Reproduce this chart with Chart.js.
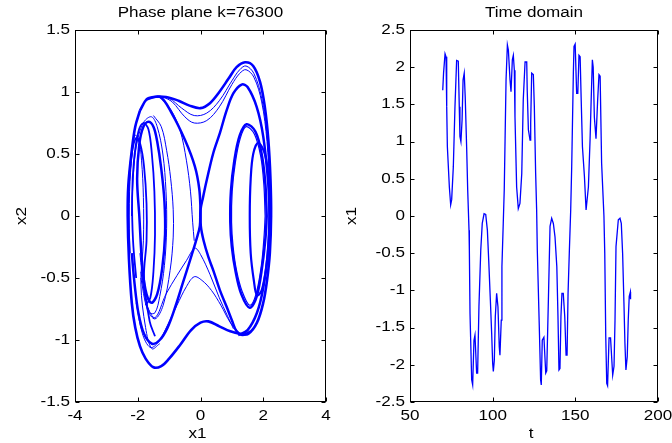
<!DOCTYPE html>
<html>
<head>
<meta charset="utf-8">
<title>Phase plane / Time domain</title>
<script src="https://cdn.jsdelivr.net/npm/chart.js@4.4.1/dist/chart.umd.min.js"></script>
<style>
    html, body { margin: 0; padding: 0; background: #fff; }
    #wrap { position: relative; width: 672px; height: 443px; overflow: hidden; }
    canvas { position: absolute; top: 0; }
    #phaseChart { left: 0; }
    #timeChart { left: 336px; }
</style>
</head>
<body>
<div id="wrap">
    <canvas id="phaseChart" width="336" height="443" style="width:336px;height:443px"></canvas>
    <canvas id="timeChart" width="336" height="443" style="width:336px;height:443px"></canvas>
</div>
<script>
// ---- Phase plane data: strands of the trajectory, [x1, x2] ----
const outerLoop = [[-1.93,0.85],[-1.72,0.94],[-1.50,0.96],[-1.10,0.96],[-0.70,0.93],[-0.35,0.89],[0.00,0.87],[0.30,0.91],[0.60,1.00],[0.90,1.11],[1.15,1.20],[1.42,1.24],[1.68,1.21],[1.90,1.08],[2.05,0.88],[2.16,0.62],[2.23,0.30],[2.25,0.00],[2.21,-0.30],[2.12,-0.52],[2.00,-0.70],[1.80,-0.86],[1.52,-0.95],[1.25,-0.95],[0.95,-0.93],[0.60,-0.89],[0.25,-0.85],[0.00,-0.86],[-0.30,-0.92],[-0.65,-1.04],[-1.00,-1.15],[-1.25,-1.21],[-1.50,-1.22],[-1.75,-1.15],[-1.93,-1.05],[-2.08,-0.90],[-2.19,-0.70],[-2.28,-0.35],[-2.32,0.00],[-2.30,0.25],[-2.19,0.53],[-2.08,0.72],[-1.93,0.85]];
const crossDown = [[-1.72,0.94],[-1.29,0.96],[-0.92,0.83],[-0.49,0.61],[-0.18,0.40],[-0.04,0.22],[0.00,0.05],[0.01,-0.08],[0.10,-0.20],[0.25,-0.33],[0.41,-0.44],[0.62,-0.60],[0.83,-0.73],[1.00,-0.84],[1.15,-0.93],[1.35,-0.96],[1.60,-0.93]];
const crossUp = [[-2.19,-0.30],[-2.10,-0.55],[-1.98,-0.78],[-1.80,-0.95],[-1.55,-1.03],[-1.30,-1.00],[-1.05,-0.90],[-0.80,-0.73],[-0.55,-0.53],[-0.30,-0.33],[-0.12,-0.18],[-0.02,-0.08],[0.00,0.05],[0.08,0.15],[0.20,0.29],[0.41,0.51],[0.62,0.67],[0.83,0.85],[1.05,0.99],[1.31,1.06],[1.50,1.04],[1.79,0.88],[2.00,0.64],[2.16,0.26],[2.20,0.00],[2.15,-0.30],[2.00,-0.58],[1.80,-0.78],[1.50,-0.92],[1.20,-0.96]];
const leftLoopA = [[-1.95,0.00],[-2.02,0.30],[-1.95,0.58],[-1.82,0.72],[-1.66,0.76],[-1.50,0.72],[-1.38,0.60],[-1.25,0.38],[-1.15,0.12],[-1.13,-0.15],[-1.22,-0.42],[-1.38,-0.63],[-1.56,-0.70],[-1.72,-0.63],[-1.85,-0.42],[-1.95,0.00]];
const leftLoopB = [[-2.25,-0.30],[-2.30,0.00],[-2.27,0.30],[-2.18,0.52],[-2.05,0.63],[-1.92,0.58],[-1.80,0.40],[-1.72,0.10],[-1.72,-0.20],[-1.80,-0.50],[-1.62,-0.85],[-1.45,-0.97]];
const leftLoopC = [[-2.05,-0.50],[-2.15,-0.20],[-2.18,0.15],[-2.12,0.45],[-1.98,0.68],[-1.82,0.75],[-1.66,0.70],[-1.55,0.50],[-1.47,0.20],[-1.45,-0.15],[-1.50,-0.45],[-1.60,-0.66],[-1.75,-0.72]];
const rightLoopA = [[2.11,0.00],[2.07,0.25],[1.95,0.50],[1.75,0.68],[1.47,0.74],[1.25,0.65],[1.08,0.45],[0.97,0.20],[0.95,-0.05],[1.00,-0.25],[1.12,-0.45],[1.30,-0.63],[1.57,-0.74],[1.79,-0.65],[1.97,-0.40],[2.08,-0.15],[2.11,0.00]];
const rightLoopA2 = [[2.06,0.00],[2.02,0.25],[1.92,0.48],[1.72,0.66],[1.45,0.72],[1.26,0.62],[1.11,0.43],[1.01,0.20],[0.99,-0.05],[1.04,-0.25],[1.15,-0.44],[1.33,-0.61],[1.57,-0.72],[1.77,-0.63],[1.94,-0.40],[2.03,-0.15],[2.06,0.00]];
const rightLoopB = [[2.20,0.00],[2.17,0.30],[2.05,0.50],[1.84,0.59],[1.68,0.50],[1.60,0.30],[1.57,0.00],[1.60,-0.30],[1.70,-0.52],[1.80,-0.64],[1.95,-0.60],[2.10,-0.40],[2.18,-0.15],[2.20,0.00]];
const thinTop1 = [[-1.30,0.96],[-1.00,0.95],[-0.60,0.87],[-0.20,0.81],[0.20,0.83],[0.60,0.93],[1.00,1.09],[1.25,1.18],[1.45,1.21],[1.70,1.15],[1.95,0.95],[2.12,0.65],[2.20,0.30]];
const thinTop2 = [[-1.20,0.96],[-0.90,0.92],[-0.50,0.80],[-0.20,0.75],[0.20,0.77],[0.60,0.88],[1.00,1.06],[1.25,1.15],[1.45,1.18],[1.70,1.12],[1.95,0.92],[2.12,0.60],[2.20,0.25]];
const thinLeft1 = [[-2.20,0.00],[-2.12,0.40],[-2.00,0.62],[-1.80,0.76],[-1.56,0.80],[-1.38,0.72],[-1.20,0.50],[-1.10,0.20],[-1.08,-0.10],[-1.15,-0.40],[-1.30,-0.65],[-1.45,-0.78],[-1.62,-0.78],[-1.80,-0.60],[-1.93,-0.30]];
const thinLeft2 = [[-1.50,0.81],[-1.25,0.72],[-1.08,0.53],[-0.95,0.30],[-0.87,0.05],[-0.87,-0.17],[-0.97,-0.44],[-1.19,-0.72],[-1.45,-0.83],[-1.70,-0.75],[-1.90,-0.50]];
const thinLeft3 = [[-2.27,-0.20],[-2.26,0.20],[-2.18,0.50],[-2.09,0.65],[-1.97,0.62],[-1.88,0.45],[-1.82,0.15],[-1.82,-0.20],[-1.90,-0.55],[-1.75,-0.90],[-1.55,-1.07],[-1.30,-1.03]];
const thinMid = [[-1.30,0.96],[-0.95,0.86],[-0.65,0.69],[-0.45,0.45],[-0.32,0.20],[-0.25,-0.05],[-0.20,-0.20]];
const thinBot1 = [[-1.90,-0.45],[-1.70,-0.72],[-1.45,-0.82],[-1.10,-0.63],[-0.75,-0.48],[-0.45,-0.36],[-0.18,-0.26],[0.00,-0.31],[0.30,-0.47],[0.60,-0.66],[0.85,-0.80],[1.05,-0.91]];
const thinBot2 = [[-2.05,-0.70],[-1.85,-0.95],[-1.60,-1.06],[-1.35,-1.02],[-1.05,-0.88],[-0.75,-0.72],[-0.45,-0.57],[-0.20,-0.49],[0.05,-0.52],[0.35,-0.60],[0.65,-0.72],[0.95,-0.86],[1.22,-0.94]];

const phaseXTicks = [-4, -2, 0, 2, 4];
const phaseYTicks = [-1.5, -1, -0.5, 0, 0.5, 1, 1.5];

// ---- Time domain data ----
const timeT = [69.8,70.3,71.2,71.8,72.2,72.6,73.8,74.6,75.2,76.2,
    77.2,78.2,79.2,79.8,80.2,80.8,81.5,82.1,82.8,83.4,
    84.3,84.9,85.7,85.9,86.3,87.3,87.9,88.7,89.3,90.3,
    90.9,91.7,92.8,93.7,94.8,95.8,96.8,97.6,98.6,99.4,
    100.0,100.4,101.0,101.6,102.4,103.2,104.0,104.4,105.2,105.6,
    106.4,107.0,107.5,108.1,108.9,109.5,110.5,111.1,111.9,112.5,
    113.1,113.5,114.5,115.5,116.5,117.6,118.5,119.6,120.6,120.9,
    121.6,122.6,123.0,123.6,124.6,125.2,126.0,126.6,127.0,128.2,
    129.0,129.4,130.0,131.0,132.1,132.7,133.7,134.7,135.7,136.7,
    137.7,138.8,139.5,140.1,140.7,141.3,141.9,142.7,143.6,144.4,
    145.0,145.6,146.4,147.2,147.8,148.8,149.2,149.9,150.8,151.5,
    152.2,152.9,153.5,154.3,155.5,156.5,157.9,158.9,159.5,160.3,
    160.8,161.5,162.5,163.5,164.3,165.0,165.9,167.3,167.8,168.4,
    169.0,169.5,170.4,171.3,172.6,173.4,174.0,174.6,176.0,177.0,
    177.8,178.6,179.4,180.0,180.6,181.4,182.0,182.6,183.3,183.4];
const timeX1 = [1.69,1.92,2.18,2.14,1.47,0.93,0.39,0.15,0.22,0.66,
    1.47,2.09,2.08,1.47,1.07,1.00,1.29,1.83,1.92,1.60,
    0.89,0.35,-0.19,-0.46,-1.31,-2.20,-2.27,-1.67,-1.60,-2.11,
    -2.11,-1.22,-0.46,-0.10,0.03,0.02,-0.19,-0.59,-1.13,-1.58,
    -1.98,-2.09,-1.94,-1.35,-1.04,-1.22,-1.76,-1.87,-1.40,-0.68,
    -0.10,0.35,1.02,1.83,2.30,2.23,1.83,1.67,2.10,2.16,
    1.96,1.33,0.39,0.10,0.17,0.57,1.56,2.07,2.07,1.69,
    1.16,1.02,1.25,1.92,1.90,1.47,0.57,0.08,-0.46,-1.49,
    -2.20,-2.27,-1.67,-1.63,-2.11,-2.08,-1.13,-0.14,-0.03,-0.10,
    -0.28,-0.68,-1.35,-2.07,-2.05,-1.35,-1.04,-1.04,-1.35,-1.87,
    -1.87,-1.04,-0.46,0.08,0.66,1.92,2.28,2.31,1.65,1.65,
    2.16,2.14,1.60,0.93,0.53,0.08,0.39,1.02,1.50,2.10,
    2.00,1.33,1.04,1.56,1.90,1.88,0.71,0.00,-0.50,-1.62,
    -2.25,-2.28,-1.64,-1.64,-2.14,-2.02,-1.40,-0.41,-0.05,-0.03,
    -0.10,-0.50,-1.17,-1.71,-2.07,-1.89,-1.40,-1.08,-1.02,-1.12];

const timeXTicks = [50, 100, 150, 200];
const timeYTicks = [-2.5, -2, -1.5, -1, -0.5, 0, 0.5, 1, 1.5, 2, 2.5];

const BLUE = '#0000ff';
const FONT = '"Liberation Sans", Arial, sans-serif';
const STRETCH = 1.22; // labels in the reference look horizontally stretched

function toPoints(pairs) {
    return pairs.map(p => ({ x: p[0], y: p[1] }));
}

function strand(pairs, width) {
    return {
        data: toPoints(pairs),
        showLine: true,
        borderColor: BLUE,
        borderWidth: width,
        pointRadius: 0,
        tension: 0.35,
        fill: false
    };
}

function drawText(ctx, text, x, y, align, size, rotate) {
    ctx.save();
    ctx.translate(x, y);
    if (rotate) ctx.rotate(rotate);
    ctx.scale(STRETCH, 1);
    ctx.font = size + 'px ' + FONT;
    ctx.fillStyle = '#000';
    ctx.textAlign = align;
    ctx.textBaseline = 'middle';
    ctx.fillText(text, 0, 0);
    ctx.restore();
}

/**
 * MATLAB style box: frame, inward ticks on all sides, tick labels, titles
 */
function matlabFrame(cfg) {
    return {
        id: 'matlabFrame',
        afterDraw(chart) {
            const ctx = chart.ctx;
            const a = chart.chartArea;
            const sx = chart.scales.x;
            const sy = chart.scales.y;
            const L = a.left + 0.5, R = a.right - 0.5, T = a.top + 0.5, B = a.bottom - 0.5;
            const tick = 4;

            ctx.save();
            ctx.strokeStyle = '#000';
            ctx.lineWidth = 1;
            ctx.strokeRect(L, T, R - L, B - T);

            ctx.beginPath();
            cfg.xTicks.forEach(v => {
                const px = Math.round(sx.getPixelForValue(v)) + 0.5;
                ctx.moveTo(px, B); ctx.lineTo(px, B - tick);
                ctx.moveTo(px, T); ctx.lineTo(px, T + tick);
            });
            cfg.yTicks.forEach(v => {
                const py = Math.round(sy.getPixelForValue(v)) + 0.5;
                ctx.moveTo(L, py); ctx.lineTo(L + tick, py);
                ctx.moveTo(R, py); ctx.lineTo(R - tick, py);
            });
            ctx.stroke();
            ctx.restore();

            cfg.xTicks.forEach(v => {
                drawText(ctx, String(v), sx.getPixelForValue(v), a.bottom + 14, 'center', 14);
            });
            cfg.yTicks.forEach(v => {
                drawText(ctx, String(v), a.left - 5, sy.getPixelForValue(v), 'right', 14);
            });

            const cx = (a.left + a.right) / 2;
            const cy = (a.top + a.bottom) / 2;
            drawText(ctx, cfg.title, cx, 13, 'center', 14);
            drawText(ctx, cfg.xLabel, cx - 3, a.bottom + 32, 'center', 14);
            drawText(ctx, cfg.yLabel, cfg.yLabelX, cy, 'center', 14, -Math.PI / 2);
        }
    };
}

function hiddenScale(min, max) {
    return { type: 'linear', min: min, max: max, display: false };
}

/**
 * Phase plane (left)
 */
new Chart(document.getElementById('phaseChart'), {
    type: 'scatter',
    data: {
        datasets: [
            strand(thinTop1, 1),
            strand(thinTop2, 1),
            strand(thinLeft1, 1),
            strand(thinLeft2, 1),
            strand(thinLeft3, 1),
            strand(thinMid, 1),
            strand(thinBot1, 1),
            strand(thinBot2, 1),
            strand(leftLoopB, 1.8),
            strand(leftLoopC, 1.8),
            strand(rightLoopB, 2.2),
            strand(rightLoopA2, 1.2),
            strand(leftLoopA, 2.5),
            strand(rightLoopA, 2.5),
            strand(crossDown, 2.5),
            strand(crossUp, 2.5),
            strand(outerLoop, 2.6)
        ]
    },
    options: {
        responsive: false,
        animation: false,
        layout: { padding: { left: 75, right: 10, top: 30, bottom: 41 } },
        plugins: { legend: { display: false }, tooltip: { enabled: false } },
        scales: { x: hiddenScale(-4, 4), y: hiddenScale(-1.5, 1.5) }
    },
    plugins: [matlabFrame({
        xTicks: phaseXTicks, yTicks: phaseYTicks,
        title: 'Phase plane k=76300', xLabel: 'x1', yLabel: 'x2', yLabelX: 22
    })]
});

/**
 * Time domain (right)
 */
new Chart(document.getElementById('timeChart'), {
    type: 'line',
    data: {
        datasets: [{
            data: timeT.map((t, i) => ({ x: t, y: timeX1[i] })),
            borderColor: BLUE,
            borderWidth: 1.3,
            pointRadius: 0,
            tension: 0,
            fill: false
        }]
    },
    options: {
        responsive: false,
        animation: false,
        parsing: false,
        layout: { padding: { left: 74, right: 14, top: 30, bottom: 41 } },
        plugins: { legend: { display: false }, tooltip: { enabled: false } },
        scales: { x: hiddenScale(50, 200), y: hiddenScale(-2.5, 2.5) }
    },
    plugins: [matlabFrame({
        xTicks: timeXTicks, yTicks: timeYTicks,
        title: 'Time domain', xLabel: 't', yLabel: 'x1', yLabelX: 16
    })]
});
</script>
</body>
</html>
